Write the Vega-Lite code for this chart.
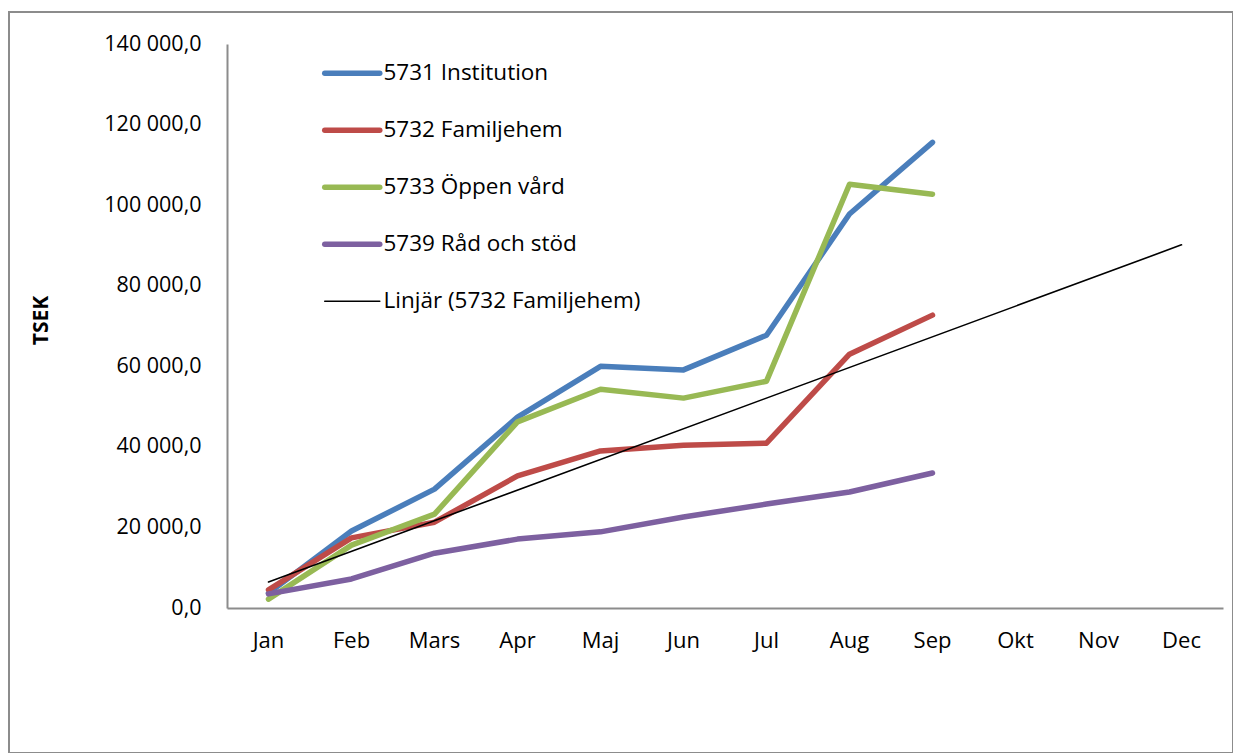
{
  "$schema": "https://vega.github.io/schema/vega-lite/v6.json",
  "width": 1224,
  "height": 741,
  "autosize": {"type": "none"},
  "padding": {"left": 9, "top": 12, "right": 0, "bottom": 0},
  "background": "white",
  "config": {
    "view": {"stroke": "#8c8c8c", "strokeWidth": 2},
    "font": "Open Sans"
  },
  "data": {
    "values": [
      {"month": "Jan", "series": "5731 Institution", "value": 3700},
      {"month": "Feb", "series": "5731 Institution", "value": 19100},
      {"month": "Mars", "series": "5731 Institution", "value": 29500},
      {"month": "Apr", "series": "5731 Institution", "value": 47400},
      {"month": "Maj", "series": "5731 Institution", "value": 60000},
      {"month": "Jun", "series": "5731 Institution", "value": 59100},
      {"month": "Jul", "series": "5731 Institution", "value": 67700},
      {"month": "Aug", "series": "5731 Institution", "value": 97800},
      {"month": "Sep", "series": "5731 Institution", "value": 115600},
      {"month": "Jan", "series": "5732 Familjehem", "value": 4500},
      {"month": "Feb", "series": "5732 Familjehem", "value": 17400},
      {"month": "Mars", "series": "5732 Familjehem", "value": 21300},
      {"month": "Apr", "series": "5732 Familjehem", "value": 32800},
      {"month": "Maj", "series": "5732 Familjehem", "value": 39000},
      {"month": "Jun", "series": "5732 Familjehem", "value": 40400},
      {"month": "Jul", "series": "5732 Familjehem", "value": 40900},
      {"month": "Aug", "series": "5732 Familjehem", "value": 63000},
      {"month": "Sep", "series": "5732 Familjehem", "value": 72700},
      {"month": "Jan", "series": "5733 Öppen vård", "value": 2200},
      {"month": "Feb", "series": "5733 Öppen vård", "value": 15600},
      {"month": "Mars", "series": "5733 Öppen vård", "value": 23300},
      {"month": "Apr", "series": "5733 Öppen vård", "value": 46200},
      {"month": "Maj", "series": "5733 Öppen vård", "value": 54300},
      {"month": "Jun", "series": "5733 Öppen vård", "value": 52100},
      {"month": "Jul", "series": "5733 Öppen vård", "value": 56300},
      {"month": "Aug", "series": "5733 Öppen vård", "value": 105200},
      {"month": "Sep", "series": "5733 Öppen vård", "value": 102700},
      {"month": "Jan", "series": "5739 Råd och stöd", "value": 3500},
      {"month": "Feb", "series": "5739 Råd och stöd", "value": 7200},
      {"month": "Mars", "series": "5739 Råd och stöd", "value": 13600},
      {"month": "Apr", "series": "5739 Råd och stöd", "value": 17100},
      {"month": "Maj", "series": "5739 Råd och stöd", "value": 18900},
      {"month": "Jun", "series": "5739 Råd och stöd", "value": 22600},
      {"month": "Jul", "series": "5739 Råd och stöd", "value": 25800},
      {"month": "Aug", "series": "5739 Råd och stöd", "value": 28800},
      {"month": "Sep", "series": "5739 Råd och stöd", "value": 33500},
      {"month": "Jan", "series": "Linjär (5732 Familjehem)", "value": 6460},
      {"month": "Dec", "series": "Linjär (5732 Familjehem)", "value": 90140}
    ]
  },
  "mark": {"type": "line", "strokeCap": "round", "strokeJoin": "round", "clip": false},
  "encoding": {
    "x": {
      "field": "month",
      "type": "nominal",
      "sort": null,
      "bandPosition": 0.5,
      "scale": {
        "type": "band",
        "domain": ["Jan", "Feb", "Mars", "Apr", "Maj", "Jun", "Jul", "Aug", "Sep", "Okt", "Nov", "Dec"],
        "range": [218, 1214],
        "paddingInner": 0,
        "paddingOuter": 0
      },
      "axis": {
        "orient": "bottom",
        "offset": -145,
        "title": null,
        "labelAngle": 0,
        "ticks": false,
        "grid": false,
        "labelPadding": 22,
        "labelFontSize": 22,
        "labelColor": "black",
        "labelFont": "Open Sans",
        "domainColor": "#8c8c8c",
        "domainWidth": 2
      }
    },
    "y": {
      "field": "value",
      "type": "quantitative",
      "scale": {"domain": [0, 140000], "range": [596, 32], "nice": false},
      "axis": {
        "orient": "left",
        "offset": -218,
        "values": [0, 20000, 40000, 60000, 80000, 100000, 120000, 140000],
        "labelExpr": "replace(replace(format(datum.value, ',.1f'), ',', ' '), '.', ',')",
        "ticks": false,
        "grid": false,
        "labelPadding": 26,
        "labelFontSize": 21.5,
        "labelColor": "black",
        "labelFont": "Open Sans",
        "domainColor": "#8c8c8c",
        "domainWidth": 2,
        "title": "TSEK",
        "titleFont": "Open Sans",
        "titleFontWeight": "bold",
        "titleFontSize": 21,
        "titleColor": "black",
        "titleAngle": -90,
        "titleX": -186,
        "titleY": 308,
        "titleAlign": "center",
        "titleBaseline": "middle"
      }
    },
    "color": {
      "field": "series",
      "type": "nominal",
      "scale": {
        "domain": ["5731 Institution", "5732 Familjehem", "5733 Öppen vård", "5739 Råd och stöd", "Linjär (5732 Familjehem)"],
        "range": ["#4A7EBB", "#BE4B48", "#98B954", "#7D60A0", "#000000"]
      },
      "legend": {
        "orient": "none",
        "legendX": 332,
        "legendY": 50,
        "title": null,
        "symbolType": "stroke",
        "symbolSize": 3025,
        "symbolStrokeWidth": 5,
        "labelFontSize": 22.5,
        "labelFont": "Open Sans",
        "labelColor": "black",
        "labelOffset": 20,
        "rowPadding": 34,
        "labelLimit": 400,
        "encode": {
          "symbols": {
            "update": {
              "strokeWidth": {"signal": "datum.value === 'Linjär (5732 Familjehem)' ? 1.6 : 5.5"},
              "strokeCap": {"value": "round"}
            }
          }
        }
      }
    },
    "strokeWidth": {
      "condition": {"test": "datum.series === 'Linjär (5732 Familjehem)'", "value": 1.6},
      "value": 5.5
    }
  }
}
